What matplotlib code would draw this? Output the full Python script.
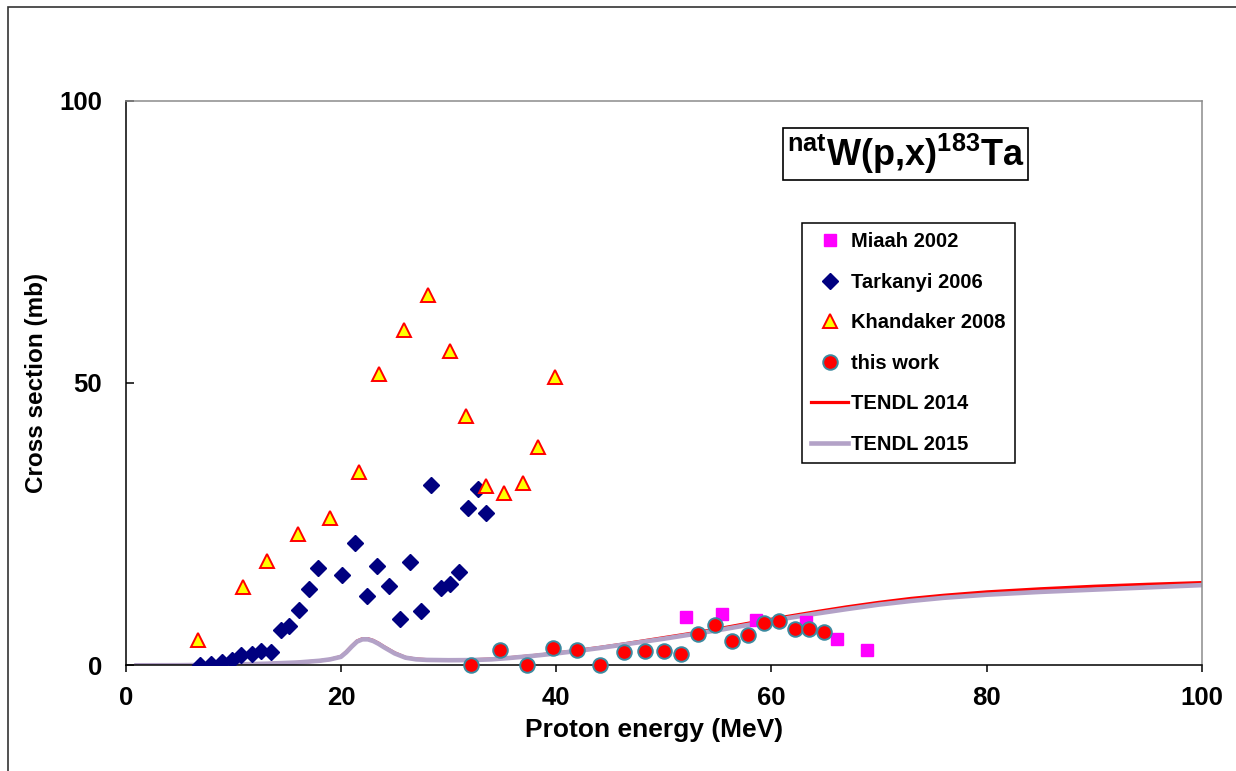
import matplotlib
matplotlib.use('Agg')
import matplotlib.pyplot as plt
from matplotlib.patches import Rectangle

plt.rcParams['font.family'] = ['Liberation Sans', 'DejaVu Sans']
plt.rcParams['font.weight'] = 'bold'
plt.rcParams['mathtext.fontset'] = 'custom'
plt.rcParams['mathtext.bf'] = 'Liberation Sans:bold'
plt.rcParams['mathtext.rm'] = 'Liberation Sans:bold'

# Miaah 2002
miaah_e = [52.1, 55.4, 58.6, 63.2, 66.1, 68.9]
miaah_cs = [8.5, 9.1, 8.1, 7.6, 4.6, 2.7]

# Tarkanyi 2006
tark_e = [6.95, 7.97, 8.96, 9.89, 10.7, 11.7, 12.6, 13.5, 14.4, 15.2, 16.1, 17.0,
          17.9, 20.1, 21.3, 22.4, 23.4, 24.5, 25.5, 26.4, 27.4, 28.4, 29.3, 30.1,
          31.0, 31.8, 32.7, 33.5]
tark_cs = [0.0, 0.2, 0.6, 0.9, 1.8, 2.0, 2.5, 2.4, 6.3, 7.0, 9.8, 13.5,
           17.2, 16.0, 21.7, 12.3, 17.5, 14.0, 8.2, 18.3, 9.6, 32.0, 13.7, 14.4,
           16.5, 27.8, 31.3, 27.0]

# Khandaker 2008
khan_e = [6.7, 10.9, 13.1, 16.0, 19.0, 21.7, 23.5, 25.9, 28.1, 30.1, 31.6, 33.5,
          35.2, 36.9, 38.3, 39.9]
khan_cs = [4.4, 13.8, 18.5, 23.2, 26.0, 34.3, 51.6, 59.4, 65.5, 55.6, 44.2, 31.7,
           30.6, 32.3, 38.7, 51.1]

# this work
work_e = [32.1, 34.75, 37.3, 39.7, 41.95, 44.1, 46.3, 48.3, 50.0, 51.65, 53.2, 54.8,
          56.3, 57.8, 59.3, 60.7, 62.2, 63.5, 64.9]
work_cs = [0.0, 2.7, 0.0, 3.0, 2.7, 0.0, 2.3, 2.5, 2.5, 2.0, 5.6, 7.2,
           4.3, 5.3, 7.5, 7.9, 6.4, 6.4, 5.9]

# TENDL evaluations
tendl_e = [1, 5, 9, 13, 16, 18, 19, 20, 20.5, 21, 21.5, 22, 22.5, 23, 23.5, 24, 25,
           26, 27, 28, 30, 32, 34, 36, 38, 40, 42, 44, 46, 48, 50, 52, 55, 58, 61,
           64, 67, 70, 73, 76, 80, 85, 90, 95, 100]
tendl2014 = [0.0, 0.02, 0.1, 0.28, 0.5, 0.8, 1.05, 1.55, 2.4, 3.4, 4.3, 4.7, 4.7,
             4.4, 3.9, 3.3, 2.2, 1.4, 1.1, 1.0, 0.95, 0.97, 1.1, 1.4, 1.75, 2.15,
             2.65, 3.15, 3.7, 4.3, 4.9, 5.5, 6.45, 7.5, 8.5, 9.45, 10.35, 11.15,
             11.85, 12.4, 13.0, 13.55, 14.0, 14.35, 14.65]
tendl2015 = [0.0, 0.02, 0.1, 0.28, 0.5, 0.8, 1.05, 1.5, 2.3, 3.3, 4.2, 4.6, 4.6,
             4.3, 3.8, 3.2, 2.1, 1.35, 1.05, 0.95, 0.9, 0.92, 1.05, 1.35, 1.7, 2.1,
             2.55, 3.05, 3.6, 4.15, 4.7, 5.3, 6.2, 7.2, 8.2, 9.1, 9.95, 10.75,
             11.4, 11.95, 12.5, 13.0, 13.4, 13.8, 14.2]

fig = plt.figure(figsize=(12.36, 7.71), dpi=100)
ax = fig.add_axes([0.1017, 0.1371, 0.8706, 0.7323])

# outer frame (left and top edges only are inside the image)
fig.add_artist(Rectangle((8 / 1236, -0.05), 1.2, 1 - 7 / 771 + 0.05,
                         transform=fig.transFigure, fill=False,
                         ec='#333333', lw=1.2))

ax.plot(tendl_e, tendl2014, color='#FF0000', lw=2.3, label='TENDL 2014', zorder=2)
ax.plot(tendl_e, tendl2015, color='#B3A2C7', lw=3.3, label='TENDL 2015', zorder=2.1)

ax.plot(miaah_e, miaah_cs, ls='none', marker='s', ms=8.5, mfc='#FF00FF', mec='#FF00FF',
        label='Miaah 2002', zorder=3)
ax.plot(tark_e, tark_cs, ls='none', marker='D', ms=8, mfc='#000080', mec='#000080',
        label='Tarkanyi 2006', zorder=3)
ax.plot(khan_e, khan_cs, ls='none', marker='^', ms=10.5, mfc='#FFFF00', mec='#FF0000',
        mew=1.4, label='Khandaker 2008', zorder=3)
ax.plot(work_e, work_cs, ls='none', marker='o', ms=10.5, mfc='#FF0000', mec='#3C8AA0',
        mew=1.4, label='this work', zorder=4, clip_on=False)

ax.set_xlim(0, 100)
ax.set_ylim(0, 100)
ax.set_xticks([0, 20, 40, 60, 80, 100])
ax.set_yticks([0, 50, 100])
ax.tick_params(axis='x', direction='out', length=5, width=1.1, pad=10, labelsize=18.5)
ax.tick_params(axis='y', direction='in', length=6, width=1.1, pad=17, labelsize=18.5)

for s in ['left', 'bottom']:
    ax.spines[s].set_color('black')
    ax.spines[s].set_linewidth(1.1)
for s in ['top', 'right']:
    ax.spines[s].set_color('#8C8C8C')
    ax.spines[s].set_linewidth(1.1)

ax.set_xlabel('Proton energy (MeV)', fontsize=19, fontweight='bold')
ax.set_ylabel('Cross section (mb)', fontsize=17.5, fontweight='bold')
ax.xaxis.set_label_coords(0.491, -0.127)
ax.xaxis.label.set_va('baseline')
ax.yaxis.set_label_coords(-0.083, 0.5)
ax.yaxis.label.set_va('center')

ax.text(0.7247, 0.9056, r'$^{\mathbf{nat}}\mathbf{W(p{,}x)}^{\mathbf{183}}\mathbf{Ta}$',
        transform=ax.transAxes, ha='center', va='center', fontsize=26,
        bbox=dict(boxstyle='square,pad=0.1', fc='white', ec='black', lw=1.2))

handles, labels = ax.get_legend_handles_labels()
order = [2, 3, 4, 5, 0, 1]
leg = ax.legend([handles[i] for i in order], [labels[i] for i in order],
                loc='upper left', bbox_to_anchor=(0.6285, 0.7834),
                fontsize=14.5, frameon=True, fancybox=False, edgecolor='black',
                framealpha=1, borderpad=0.45, labelspacing=1.07,
                handlelength=1.85, handletextpad=0.15, borderaxespad=0)
leg.get_frame().set_linewidth(1.1)
for t in leg.get_texts():
    t.set_fontweight('bold')

fig.savefig('out.png', dpi=100)
